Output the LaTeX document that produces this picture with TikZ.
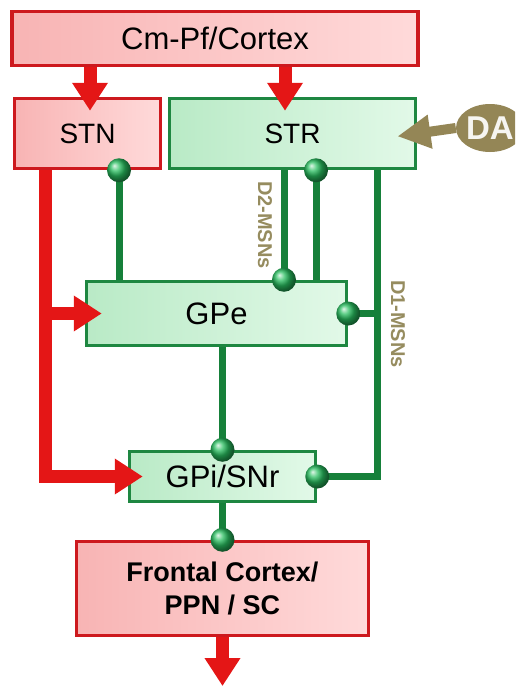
\documentclass[tikz,border=0pt]{standalone}
\usepackage{fontspec}
\setmainfont{Liberation Sans}
\usetikzlibrary{positioning,arrows.meta,shapes.geometric}

\begin{document}
\begin{tikzpicture}[x=1pt, y=-1pt,
		redbox/.style={rectangle, draw=boxred, line width=3.5pt, left color=pinkdark, right color=pinklight, inner sep=0pt, align=center},
		greenbox/.style={rectangle, draw=boxgreen, line width=3.5pt, left color=mintdark, right color=mintlight, inner sep=0pt, align=center},
		inhib/.style={draw=linegreen, line width=7pt},
		ball/.style={circle, inner sep=0pt, minimum size=24pt, shading=ball, ball color=ballgreen},
		excit/.style={draw=arrowred, line width=13pt, line join=miter, -{Triangle[length=28pt,width=34pt]}, shorten >=-14pt},
		mainfont/.style={font=\fontsize{#1}{#1}\selectfont}]

		% Farben definieren
		\definecolor{boxred}{RGB}{205,25,30}
		\definecolor{pinkdark}{RGB}{248,180,180}
		\definecolor{pinklight}{RGB}{255,218,218}
		\definecolor{boxgreen}{RGB}{30,135,65}
		\definecolor{mintdark}{RGB}{185,234,198}
		\definecolor{mintlight}{RGB}{226,249,232}
		\definecolor{linegreen}{RGB}{22,128,58}
		\definecolor{ballgreen}{RGB}{40,190,95}
		\definecolor{arrowred}{RGB}{228,22,22}
		\definecolor{olive}{RGB}{148,134,86}
		\definecolor{olivetext}{RGB}{150,140,95}

		\useasboundingbox (0,0) rectangle (515,686);
		\clip (0,0) rectangle (515,686);

		% --- Kerne ---
		\node[redbox, minimum width=406pt, minimum height=54pt, mainfont=31] (cortex) at (215,38.5) {Cm-Pf/Cortex};
		\node[redbox, minimum width=146pt, minimum height=70pt, mainfont=28] (stn) at (87.5,133.5) {STN};
		\node[greenbox, minimum width=246pt, minimum height=70pt, mainfont=28] (str) at (292.5,133.5) {STR};
		\node[greenbox, minimum width=260pt, minimum height=64pt, mainfont=31] (gpe) at (216.5,313.5) {GPe};
		\node[greenbox, minimum width=186pt, minimum height=50pt, mainfont=31] (gpi) at (222.5,476.5) {GPi/SNr};
		\node[redbox, minimum width=292pt, minimum height=94pt, font=\fontsize{27}{33}\selectfont\bfseries] (frontal) at (222.5,588.5) {Frontal Cortex/\\PPN / SC};
		\node[ellipse, fill=olive, minimum width=68pt, minimum height=48pt, inner sep=0pt, text=white!92!olive, font=\fontsize{33}{33}\selectfont\bfseries] (da) at (490,128) {DA};
		\coordinate (out) at (222.5,686);

		% --- Beschriftung der Bahnen ---
		\node[rotate=-90, text=olivetext, font=\fontsize{20}{20}\selectfont\bfseries] (d2lbl) at (265,225) {D2-MSNs};
		\node[rotate=-90, text=olivetext, font=\fontsize{20}{20}\selectfont\bfseries] (d1lbl) at (398,324) {D1-MSNs};

		% --- Hemmende Bahnen ---
		\draw[inhib] ([xshift=31.5pt]stn.south |- gpe.north) -- ([xshift=31.5pt]stn.south) node[ball]{};
		\draw[inhib] ([xshift=-8.5pt]str.south) -- ([xshift=-8.5pt]str.south |- gpe.north) node[ball]{};
		\draw[inhib] ([xshift=23.5pt]str.south |- gpe.north) -- ([xshift=23.5pt]str.south) node[ball]{};
		\draw[inhib] ([xshift=84.5pt]str.south) |- (gpi.east) node[ball]{};
		\draw[inhib] ([xshift=84.5pt]str.south |- gpe.east) -- (gpe.east) node[ball]{};
		\draw[inhib] (gpi.north |- gpe.south) -- (gpi.north) node[ball]{};
		\draw[inhib] (gpi.south) -- (frontal.north) node[ball]{};

		% --- Erregende Bahnen ---
		\draw[excit] ([xshift=2.5pt]stn.north |- cortex.south) -- ([xshift=2.5pt]stn.north);
		\draw[excit] ([xshift=-7.5pt]str.north |- cortex.south) -- ([xshift=-7.5pt]str.north);
		\draw[excit, shorten >=-15pt] ([xshift=-42.5pt]stn.south) |- (gpi.west);
		\draw[excit, shorten >=-17pt] ([xshift=-42.5pt]stn.south |- gpe.west) -- (gpe.west);
		\draw[excit, shorten >=0pt] (frontal.south) -- (out);

		% Dopamin
		\draw[draw=olive, line width=10pt, -{Triangle[length=33pt,width=32pt]}, shorten >=-20pt] (da.west) -- (str.east);

	\end{tikzpicture}
\end{document}
